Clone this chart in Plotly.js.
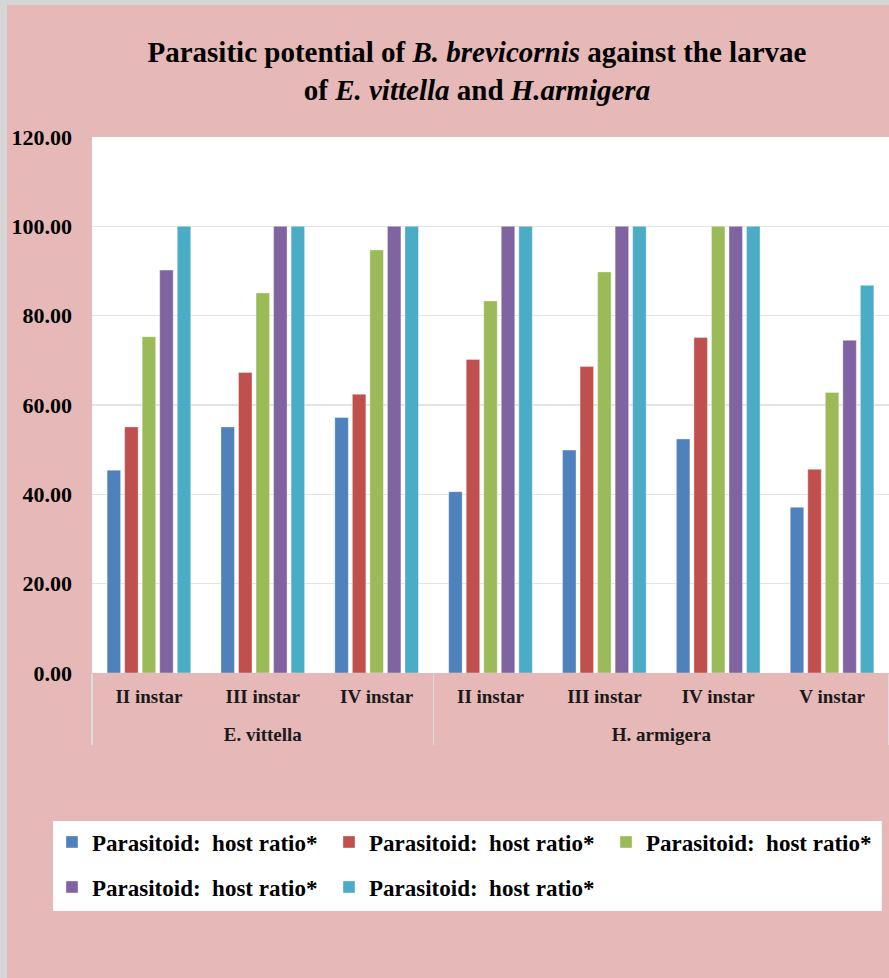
<!DOCTYPE html>
<html>
<head>
<meta charset="utf-8">
<script src="https://cdn.plot.ly/plotly-3.0.1.min.js"></script>
<style>
  html, body { margin: 0; padding: 0; background: #d6d6d6; width: 889px; height: 978px; overflow: hidden; }
  #chart { position: absolute; left: 7px; top: 5px; width: 882px; height: 973px; }
</style>
</head>
<body>
<div id="chart"></div>
<script>
// ---- data ----
const hosts = ['E. vittella', 'E. vittella', 'E. vittella', 'H. armigera', 'H. armigera', 'H. armigera', 'H. armigera'];
const instars = ['II instar', 'III instar', 'IV instar', 'II instar', 'III instar', 'IV instar', 'V instar'];
const seriesName = 'Parasitoid:\u00a0 host ratio*';
const ratio1 = [45.4, 55.1, 57.2, 40.6, 49.9, 52.4, 37.1];
const ratio2 = [55.1, 67.3, 62.4, 70.2, 68.6, 75.1, 45.6];
const ratio3 = [75.3, 85.1, 94.7, 83.3, 89.8, 100.0, 62.8];
const ratio4 = [90.2, 100.0, 100.0, 100.0, 100.0, 100.0, 74.5];
const ratio5 = [100.0, 100.0, 100.0, 100.0, 100.0, 100.0, 86.8];
const yTicks = [0, 20, 40, 60, 80, 100, 120];

const seriesValues = [ratio1, ratio2, ratio3, ratio4, ratio5];
const colors = ['#4F81BD', '#C0504D', '#9BBB59', '#8064A2', '#4BACC6'];
const legendIds = ['legend', 'legend', 'legend', 'legend2', 'legend2'];

const serif = 'Liberation Serif, Times New Roman, serif';

// an empty (non-breaking space) second line leaves room between the two label rows
const instarLabels = instars.map(s => s + '<br>\u00a0');

const traces = seriesValues.map((vals, i) => ({
  type: 'bar',
  name: seriesName,
  x: [hosts, instarLabels],
  y: vals,
  marker: { color: colors[i], line: { color: 'rgba(255,255,255,0.6)', width: 0.6 } },
  legend: legendIds[i],
  hoverinfo: 'y'
}));

const legendFont = { family: serif, size: 23, color: '#000', weight: 'bold' };

const layout = {
  width: 882,
  height: 973,
  paper_bgcolor: '#E6B8B7',
  plot_bgcolor: '#FFFFFF',
  margin: { l: 85, r: 0, t: 132, b: 305, pad: 0 },
  barmode: 'group',
  bargap: 0.23,
  bargroupgap: 0.23,
  title: {
    text: 'Parasitic potential of <i>B. brevicornis</i> against the larvae<br>of <i>E. vittella</i> and <i>H.armigera</i>',
    font: { family: serif, size: 29, color: '#000', weight: 'bold' },
    xref: 'paper', x: 0.483, xanchor: 'center',
    yref: 'container', y: 0.941, yanchor: 'top'
  },
  xaxis: {
    type: 'multicategory',
    tickfont: { family: serif, size: 19, color: '#1a1a1a', weight: 'bold' },
    ticklabelstandoff: 10,
    showdividers: true,
    dividercolor: '#DCDCDC',
    dividerwidth: 1.5,
    showline: false,
    showgrid: false,
    ticks: '',
    zeroline: false
  },
  yaxis: {
    range: [0, 120],
    tickvals: yTicks,
    tickformat: '.2f',
    tickfont: { family: serif, size: 22, color: '#000', weight: 'bold' },
    ticklabelstandoff: 19,
    showgrid: true,
    gridcolor: '#E4E4E4',
    gridwidth: 1.2,
    zeroline: false,
    showline: false,
    ticks: ''
  },
  showlegend: true,
  legend: {
    orientation: 'h',
    x: -0.0502, xanchor: 'left',
    y: -0.3153, yanchor: 'middle',
    bgcolor: 'rgba(0,0,0,0)',
    font: legendFont,
    entrywidth: 232,
    entrywidthmode: 'pixels',
    traceorder: 'normal'
  },
  legend2: {
    orientation: 'h',
    x: -0.0502, xanchor: 'left',
    y: -0.3993, yanchor: 'middle',
    bgcolor: 'rgba(0,0,0,0)',
    font: legendFont,
    entrywidth: 232,
    entrywidthmode: 'pixels',
    traceorder: 'normal'
  },
  shapes: [{
    type: 'rect', xref: 'paper', yref: 'paper',
    x0: -0.0489, x1: 0.991, y0: -0.444, y1: -0.276,
    fillcolor: '#FFFFFF', line: { width: 0 }, layer: 'below'
  }]
};

Plotly.newPlot('chart', traces, layout, { displayModeBar: false, staticPlot: true });
</script>
</body>
</html>
